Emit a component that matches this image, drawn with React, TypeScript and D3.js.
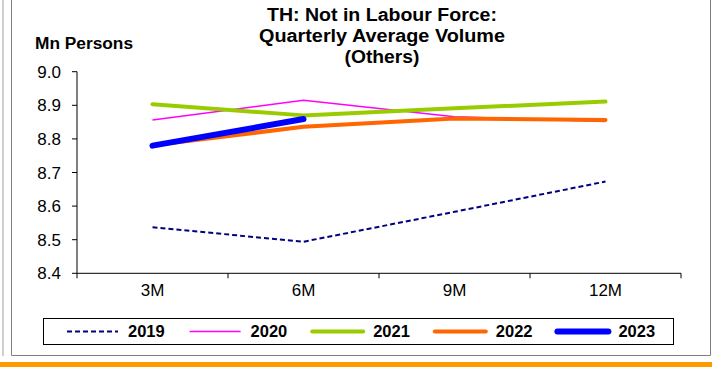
import React, { useRef, useEffect } from 'react';
import * as d3 from 'd3';

const W = 712;
const H = 367;

// quarters on the x axis
const categories = ['3M', '6M', '9M', '12M'];
const yTicks = [8.4, 8.5, 8.6, 8.7, 8.8, 8.9, 9.0];

// Not in labour force (others), Mn persons
const v2019 = [8.537, 8.494, 8.583, 8.673];
const v2020 = [8.856, 8.915, 8.866, 8.852];
const v2021 = [8.903, 8.870, 8.891, 8.911];
const v2022 = [8.781, 8.836, 8.861, 8.856];
const v2023 = [8.780, 8.859];

const seriesNames = ['2019', '2020', '2021', '2022', '2023'];
const seriesValues = [v2019, v2020, v2021, v2022, v2023];
const seriesStyle = [
  { color: '#000080', width: 2, dash: '5,3' },
  { color: '#FF00FF', width: 1.5, dash: null },
  { color: '#99CC00', width: 4, dash: null },
  { color: '#FF6600', width: 4, dash: null },
  { color: '#0000FF', width: 6, dash: null },
];

const titleLines = ['TH: Not in Labour Force:', 'Quarterly Average Volume', '(Others)'];
const titleWidths = [230, 246, 75];

const App: React.FC = () => {
  const svgRef = useRef<SVGSVGElement>(null);

  useEffect(() => {
    if (!svgRef.current) return;
    const svg = d3.select(svgRef.current);
    svg.selectAll('*').remove();

    const font = 'Arial, "Liberation Sans", sans-serif';

    // frame
    svg.append('line').attr('x1', 3).attr('x2', 3).attr('y1', 0).attr('y2', 356)
      .attr('stroke', '#a0a0a0').attr('stroke-width', 1);
    svg.append('path').attr('d', 'M11.5,0 V355.5 H710.5 V0')
      .attr('fill', 'none').attr('stroke', '#808080').attr('stroke-width', 1);
    svg.append('rect').attr('x', 0).attr('y', 362).attr('width', W).attr('height', 5)
      .attr('fill', '#FF9900');

    const x = d3.scaleBand().domain(categories).range([77, 681]);
    const y = d3.scaleLinear().domain([8.4, 9.0]).range([273.3, 71.7]);

    // y axis
    const g = svg.append('g');
    g.append('line').attr('x1', 77).attr('x2', 77).attr('y1', y(9.0)).attr('y2', y(8.4))
      .attr('stroke', '#000').attr('stroke-width', 1);
    yTicks.forEach((t) => {
      g.append('line').attr('x1', 72).attr('x2', 77).attr('y1', y(t)).attr('y2', y(t))
        .attr('stroke', '#000');
      g.append('text').attr('x', 61).attr('y', y(t) + 6).attr('text-anchor', 'end')
        .style('font-family', font).style('font-size', '17px').attr('fill', '#000')
        .text(t.toFixed(1));
    });

    // x axis
    g.append('line').attr('x1', 77).attr('x2', 681).attr('y1', y(8.4)).attr('y2', y(8.4))
      .attr('stroke', '#000');
    const edges = categories.map((c) => x(c) as number).concat([681]);
    edges.forEach((e) => {
      g.append('line').attr('x1', e).attr('x2', e).attr('y1', y(8.4)).attr('y2', y(8.4) + 5)
        .attr('stroke', '#000');
    });
    categories.forEach((c) => {
      g.append('text').attr('x', (x(c) as number) + x.bandwidth() / 2).attr('y', 296)
        .attr('text-anchor', 'middle').style('font-family', font).style('font-size', '17px')
        .attr('fill', '#000').text(c);
    });

    // lines
    const line = d3.line<number>()
      .x((_, i) => (x(categories[i]) as number) + x.bandwidth() / 2)
      .y((d) => y(d));
    seriesValues.forEach((vals, i) => {
      const s = seriesStyle[i];
      svg.append('path').datum(vals).attr('d', line)
        .attr('fill', 'none').attr('stroke', s.color).attr('stroke-width', s.width)
        .attr('stroke-dasharray', s.dash)
        .attr('stroke-linecap', s.width >= 4 ? 'round' : 'butt')
        .attr('stroke-linejoin', 'round');
    });

    // titles
    titleLines.forEach((t, i) => {
      svg.append('text').attr('x', 382).attr('y', 20.5 + i * 21).attr('text-anchor', 'middle')
        .attr('font-family', font).attr('font-size', 17.5).attr('font-weight', 'bold')
        .attr('textLength', titleWidths[i]).attr('lengthAdjust', 'spacingAndGlyphs')
        .attr('fill', '#000').text(t);
    });
    svg.append('text').attr('x', 35).attr('y', 49).attr('font-family', font)
      .attr('font-size', 16).attr('font-weight', 'bold')
      .attr('textLength', 98).attr('lengthAdjust', 'spacingAndGlyphs')
      .attr('fill', '#000').text('Mn Persons');

    // legend
    svg.append('rect').attr('x', 43.5).attr('y', 318.5).attr('width', 630).attr('height', 26)
      .attr('fill', '#fff').attr('stroke', '#000').attr('stroke-width', 1);
    seriesNames.forEach((n, i) => {
      const lx = 67 + i * 122.6;
      const s = seriesStyle[i];
      svg.append('line').attr('x1', lx).attr('x2', lx + 51).attr('y1', 331.5).attr('y2', 331.5)
        .attr('stroke', s.color).attr('stroke-width', s.width)
        .attr('stroke-dasharray', s.dash)
        .attr('stroke-linecap', s.width >= 4 ? 'round' : 'butt');
      svg.append('text').attr('x', lx + 61).attr('y', 337).attr('font-family', font)
        .attr('font-size', 16.5).attr('font-weight', 'bold').attr('fill', '#000').text(n);
    });
  }, []);

  return (
    <svg
      ref={svgRef}
      width={W}
      height={H}
      style={{ position: 'absolute', left: 0, top: 0, background: '#fff' }}
    />
  );
};

export default App;
